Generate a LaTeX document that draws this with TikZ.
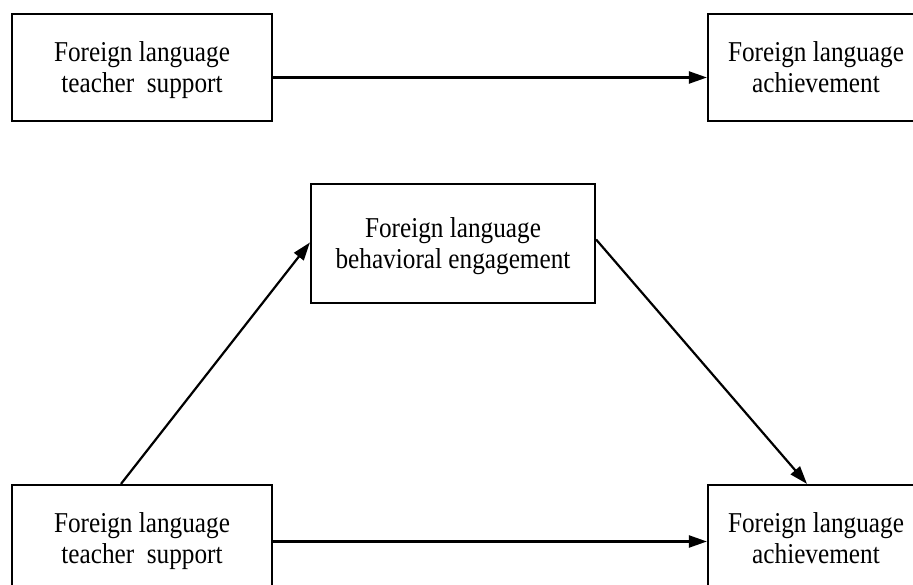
\documentclass[tikz,border=0pt]{standalone}
\usepackage{fontspec}
\setmainfont{Liberation Serif}
\usetikzlibrary{arrows.meta}
\newcommand\boxtext[1]{\raisebox{-3pt}[\height][\depth]{\scalebox{1.01}[1.15]{\fontsize{25}{27.5}\selectfont\begin{tabular}{@{}c@{}}#1\end{tabular}}}}
\begin{document}
\begin{tikzpicture}[x=1pt,y=-1pt,
  box/.style={draw=black, line width=2.2pt, align=center, inner sep=0pt},
  conn/.style={line width=2.2pt, -{Triangle[length=18pt,width=12pt]}}]
\clip (0,0) rectangle (913,585);
\useasboundingbox (0,0) rectangle (913,585);
\node[box, minimum width=260pt, minimum height=107pt] (tl) at (142,67.5) {\boxtext{Foreign language\\teacher \ support}};
\node[box, minimum width=216pt, minimum height=107pt] (tr) at (816,67.5) {\boxtext{Foreign language\\achievement}};
\node[box, minimum width=284pt, minimum height=119pt] (mid) at (453,243.5) {\boxtext{Foreign language\\behavioral engagement}};
\node[box, minimum width=260pt, minimum height=107pt] (bl) at (142,538.5) {\boxtext{Foreign language\\teacher \ support}};
\node[box, minimum width=216pt, minimum height=107pt] (br) at (816,538.5) {\boxtext{Foreign language\\achievement}};
\draw[conn] ([yshift=-10pt]tl.east) -- ([yshift=-10pt]tr.west);
\draw[conn] ([xshift=-21pt]bl.north) -- ([yshift=1pt]mid.west);
\draw[conn] ([yshift=4pt]mid.east) -- ([xshift=-9pt]br.north);
\draw[conn] ([yshift=-3pt]bl.east) -- ([yshift=-3pt]br.west);
\end{tikzpicture}
\end{document}
